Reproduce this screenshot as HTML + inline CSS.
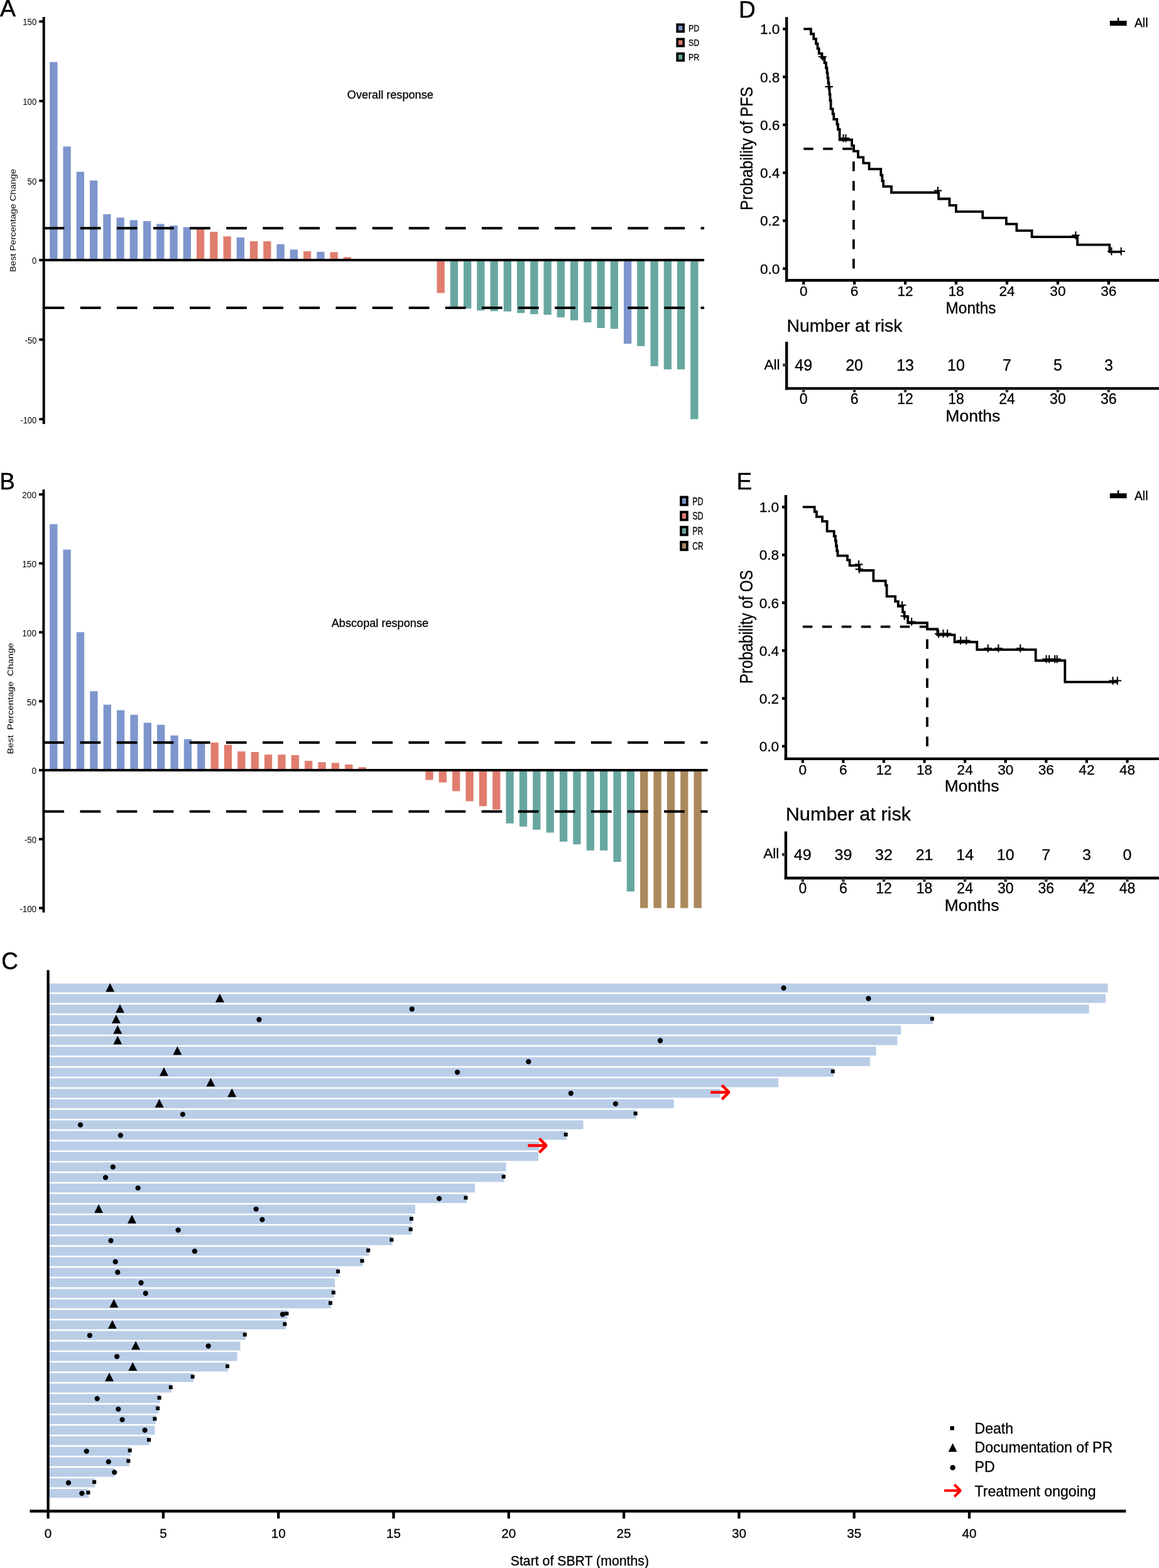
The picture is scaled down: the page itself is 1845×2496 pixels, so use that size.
<!DOCTYPE html>
<html lang="en">
<head>
<meta charset="utf-8">
<title>Figure: response, swimmer plot and survival</title>
<style>
html,body{margin:0;padding:0;background:#fff;}
body{width:1845px;height:2496px;overflow:hidden;}
svg{display:block;}
svg text{font-family:"Liberation Sans",Arial,Helvetica,sans-serif;fill:#000;}
</style>
</head>
<body>
<svg width="1845" height="2496" viewBox="0 0 1845 2496">
<rect x="0" y="0" width="1845" height="2496" fill="#fff"/>
<text x="0" y="25.8" font-size="37.5" stroke="#000" stroke-width="0.5">A</text>
<text x="-0.5" y="778.6" font-size="36.3" stroke="#000" stroke-width="0.5">B</text>
<text x="2.3" y="1543" font-size="38.6" textLength="26.6" lengthAdjust="spacingAndGlyphs" stroke="#000" stroke-width="0.5">C</text>
<text x="1176" y="27.5" font-size="37" stroke="#000" stroke-width="0.5">D</text>
<text x="1172.5" y="779.1" font-size="37" stroke="#000" stroke-width="0.5">E</text>
<rect x="79.2" y="98.77" width="12.3" height="315.23" fill="#7e96cd"/>
<rect x="100.45" y="233.22" width="12.3" height="180.78" fill="#7e96cd"/>
<rect x="121.7" y="273.47" width="12.3" height="140.53" fill="#7e96cd"/>
<rect x="142.95" y="287.4" width="12.3" height="126.6" fill="#7e96cd"/>
<rect x="164.2" y="341.08" width="12.3" height="72.92" fill="#7e96cd"/>
<rect x="185.45" y="346.4" width="12.3" height="67.6" fill="#7e96cd"/>
<rect x="206.7" y="350.45" width="12.3" height="63.55" fill="#7e96cd"/>
<rect x="227.95" y="351.97" width="12.3" height="62.03" fill="#7e96cd"/>
<rect x="249.2" y="356.52" width="12.3" height="57.48" fill="#7e96cd"/>
<rect x="270.45" y="359.06" width="12.3" height="54.94" fill="#7e96cd"/>
<rect x="291.7" y="361.59" width="12.3" height="52.41" fill="#7e96cd"/>
<rect x="312.95" y="364.88" width="12.3" height="49.12" fill="#e07d6f"/>
<rect x="334.2" y="368.93" width="12.3" height="45.07" fill="#e07d6f"/>
<rect x="355.45" y="376.27" width="12.3" height="37.73" fill="#e07d6f"/>
<rect x="376.7" y="378.05" width="12.3" height="35.95" fill="#7e96cd"/>
<rect x="397.95" y="383.87" width="12.3" height="30.13" fill="#e07d6f"/>
<rect x="419.2" y="384.12" width="12.3" height="29.88" fill="#e07d6f"/>
<rect x="440.45" y="388.68" width="12.3" height="25.32" fill="#7e96cd"/>
<rect x="461.7" y="397.29" width="12.3" height="16.71" fill="#7e96cd"/>
<rect x="482.95" y="400.07" width="12.3" height="13.93" fill="#e07d6f"/>
<rect x="504.2" y="400.83" width="12.3" height="13.17" fill="#7e96cd"/>
<rect x="525.45" y="401.34" width="12.3" height="12.66" fill="#e07d6f"/>
<rect x="546.7" y="409.19" width="12.3" height="4.81" fill="#e07d6f"/>
<rect x="695.45" y="414" width="12.3" height="52.41" fill="#e07d6f"/>
<rect x="716.7" y="414" width="12.3" height="74.44" fill="#68a7a1"/>
<rect x="737.95" y="414" width="12.3" height="76.97" fill="#68a7a1"/>
<rect x="759.2" y="414" width="12.3" height="80.26" fill="#68a7a1"/>
<rect x="780.45" y="414" width="12.3" height="81.28" fill="#68a7a1"/>
<rect x="801.7" y="414" width="12.3" height="81.78" fill="#68a7a1"/>
<rect x="822.95" y="414" width="12.3" height="84.32" fill="#68a7a1"/>
<rect x="844.2" y="414" width="12.3" height="86.09" fill="#68a7a1"/>
<rect x="865.45" y="414" width="12.3" height="87.1" fill="#68a7a1"/>
<rect x="886.7" y="414" width="12.3" height="91.15" fill="#68a7a1"/>
<rect x="907.95" y="414" width="12.3" height="95.96" fill="#68a7a1"/>
<rect x="929.2" y="414" width="12.3" height="99.25" fill="#68a7a1"/>
<rect x="950.45" y="414" width="12.3" height="108.12" fill="#68a7a1"/>
<rect x="971.7" y="414" width="12.3" height="109.38" fill="#68a7a1"/>
<rect x="992.95" y="414" width="12.3" height="133.18" fill="#7e96cd"/>
<rect x="1014.2" y="414" width="12.3" height="136.98" fill="#68a7a1"/>
<rect x="1035.45" y="414" width="12.3" height="168.88" fill="#68a7a1"/>
<rect x="1056.7" y="414" width="12.3" height="173.95" fill="#68a7a1"/>
<rect x="1077.95" y="414" width="12.3" height="173.95" fill="#68a7a1"/>
<rect x="1099.2" y="414" width="12.3" height="253.2" fill="#68a7a1"/>
<line x1="69.7" y1="363.36" x2="1121" y2="363.36" stroke="#000" stroke-width="4" stroke-dasharray="32.7 25.4"/>
<line x1="69.7" y1="489.96" x2="1121" y2="489.96" stroke="#000" stroke-width="4" stroke-dasharray="32.7 25.4"/>
<line x1="69.7" y1="414" x2="1121" y2="414" stroke="#000" stroke-width="4"/>
<line x1="69.7" y1="27" x2="69.7" y2="675" stroke="#000" stroke-width="4"/>
<line x1="62.3" y1="34.2" x2="69.7" y2="34.2" stroke="#000" stroke-width="3.9"/>
<text x="58.3" y="39.8" font-size="15.2" text-anchor="end" textLength="22.05" lengthAdjust="spacingAndGlyphs">150</text>
<line x1="62.3" y1="160.8" x2="69.7" y2="160.8" stroke="#000" stroke-width="3.9"/>
<text x="58.3" y="166.65" font-size="15.2" text-anchor="end" textLength="22.05" lengthAdjust="spacingAndGlyphs">100</text>
<line x1="62.3" y1="287.4" x2="69.7" y2="287.4" stroke="#000" stroke-width="3.9"/>
<text x="58.3" y="293.5" font-size="15.2" text-anchor="end" textLength="14.7" lengthAdjust="spacingAndGlyphs">50</text>
<line x1="62.3" y1="414" x2="69.7" y2="414" stroke="#000" stroke-width="3.9"/>
<text x="58.3" y="420.35" font-size="15.2" text-anchor="end" textLength="7.35" lengthAdjust="spacingAndGlyphs">0</text>
<line x1="62.3" y1="540.6" x2="69.7" y2="540.6" stroke="#000" stroke-width="3.9"/>
<text x="58.3" y="547.2" font-size="15.2" text-anchor="end" textLength="18.6" lengthAdjust="spacingAndGlyphs">-50</text>
<line x1="62.3" y1="667.2" x2="69.7" y2="667.2" stroke="#000" stroke-width="3.9"/>
<text x="58.3" y="674.05" font-size="15.2" text-anchor="end" textLength="25.95" lengthAdjust="spacingAndGlyphs">-100</text>
<text x="25.5" y="350.9" font-size="13" text-anchor="middle" transform="rotate(-90 25.5 350.9)" textLength="164.2" lengthAdjust="spacingAndGlyphs" xml:space="preserve">Best Percentage Change</text>
<text x="552.8" y="157" font-size="18.6" textLength="137" lengthAdjust="spacingAndGlyphs" stroke="#000" stroke-width="0.3">Overall response</text>
<rect x="1078.25" y="39.15" width="9.9" height="11.1" fill="#7e96cd" stroke="#000" stroke-width="3.75"/>
<text x="1096" y="49.9" font-size="15" textLength="17.3" lengthAdjust="spacingAndGlyphs" stroke="#000" stroke-width="0.3">PD</text>
<rect x="1078.25" y="62.21" width="9.9" height="11.1" fill="#e07d6f" stroke="#000" stroke-width="3.75"/>
<text x="1096" y="72.96" font-size="15" textLength="17.3" lengthAdjust="spacingAndGlyphs" stroke="#000" stroke-width="0.3">SD</text>
<rect x="1078.25" y="85.27" width="9.9" height="11.1" fill="#68a7a1" stroke="#000" stroke-width="3.75"/>
<text x="1096" y="96.02" font-size="15" textLength="17.3" lengthAdjust="spacingAndGlyphs" stroke="#000" stroke-width="0.3">PR</text>
<rect x="79.15" y="834.41" width="12.3" height="391.59" fill="#7e96cd"/>
<rect x="100.51" y="874.8" width="12.3" height="351.2" fill="#7e96cd"/>
<rect x="121.87" y="1006.28" width="12.3" height="219.72" fill="#7e96cd"/>
<rect x="143.24" y="1100.23" width="12.3" height="125.77" fill="#7e96cd"/>
<rect x="164.6" y="1121.74" width="12.3" height="104.26" fill="#7e96cd"/>
<rect x="185.96" y="1130.52" width="12.3" height="95.48" fill="#7e96cd"/>
<rect x="207.32" y="1137.76" width="12.3" height="88.24" fill="#7e96cd"/>
<rect x="228.68" y="1150.49" width="12.3" height="75.51" fill="#7e96cd"/>
<rect x="250.05" y="1153.78" width="12.3" height="72.22" fill="#7e96cd"/>
<rect x="271.41" y="1170.69" width="12.3" height="55.31" fill="#7e96cd"/>
<rect x="292.77" y="1176.61" width="12.3" height="49.39" fill="#7e96cd"/>
<rect x="314.13" y="1181.66" width="12.3" height="44.34" fill="#7e96cd"/>
<rect x="335.49" y="1182.1" width="12.3" height="43.9" fill="#e07d6f"/>
<rect x="356.86" y="1185.61" width="12.3" height="40.39" fill="#e07d6f"/>
<rect x="378.22" y="1196.15" width="12.3" height="29.85" fill="#e07d6f"/>
<rect x="399.58" y="1197.03" width="12.3" height="28.97" fill="#e07d6f"/>
<rect x="420.94" y="1201.2" width="12.3" height="24.8" fill="#e07d6f"/>
<rect x="442.3" y="1201.2" width="12.3" height="24.8" fill="#e07d6f"/>
<rect x="463.67" y="1202.07" width="12.3" height="23.93" fill="#e07d6f"/>
<rect x="485.03" y="1211.07" width="12.3" height="14.93" fill="#e07d6f"/>
<rect x="506.39" y="1213.27" width="12.3" height="12.73" fill="#e07d6f"/>
<rect x="527.75" y="1214.37" width="12.3" height="11.63" fill="#e07d6f"/>
<rect x="549.11" y="1217" width="12.3" height="9" fill="#e07d6f"/>
<rect x="570.48" y="1221.17" width="12.3" height="4.83" fill="#e07d6f"/>
<rect x="677.29" y="1226" width="12.3" height="15.58" fill="#e07d6f"/>
<rect x="698.65" y="1226" width="12.3" height="19.54" fill="#e07d6f"/>
<rect x="720.01" y="1226" width="12.3" height="33.36" fill="#e07d6f"/>
<rect x="741.37" y="1226" width="12.3" height="49.39" fill="#e07d6f"/>
<rect x="762.73" y="1226" width="12.3" height="57.29" fill="#e07d6f"/>
<rect x="784.1" y="1226" width="12.3" height="62.56" fill="#e07d6f"/>
<rect x="805.46" y="1226" width="12.3" height="84.73" fill="#68a7a1"/>
<rect x="826.82" y="1226" width="12.3" height="89.78" fill="#68a7a1"/>
<rect x="848.18" y="1226" width="12.3" height="94.82" fill="#68a7a1"/>
<rect x="869.54" y="1226" width="12.3" height="99.43" fill="#68a7a1"/>
<rect x="890.91" y="1226" width="12.3" height="113.7" fill="#68a7a1"/>
<rect x="912.27" y="1226" width="12.3" height="118.09" fill="#68a7a1"/>
<rect x="933.63" y="1226" width="12.3" height="127.75" fill="#68a7a1"/>
<rect x="954.99" y="1226" width="12.3" height="127.75" fill="#68a7a1"/>
<rect x="976.35" y="1226" width="12.3" height="145.97" fill="#68a7a1"/>
<rect x="997.72" y="1226" width="12.3" height="193.16" fill="#68a7a1"/>
<rect x="1019.08" y="1226" width="12.3" height="219.5" fill="#ab895d"/>
<rect x="1040.44" y="1226" width="12.3" height="219.5" fill="#ab895d"/>
<rect x="1061.8" y="1226" width="12.3" height="219.5" fill="#ab895d"/>
<rect x="1083.16" y="1226" width="12.3" height="219.5" fill="#ab895d"/>
<rect x="1104.53" y="1226" width="12.3" height="219.5" fill="#ab895d"/>
<line x1="69.4" y1="1182.1" x2="1126.6" y2="1182.1" stroke="#000" stroke-width="4" stroke-dasharray="32.7 25.4"/>
<line x1="69.4" y1="1291.85" x2="1126.6" y2="1291.85" stroke="#000" stroke-width="4" stroke-dasharray="32.7 25.4"/>
<line x1="69.4" y1="1226" x2="1126.6" y2="1226" stroke="#000" stroke-width="4"/>
<line x1="69.4" y1="779.2" x2="69.4" y2="1452.6" stroke="#000" stroke-width="4"/>
<line x1="62" y1="787" x2="69.4" y2="787" stroke="#000" stroke-width="3.9"/>
<text x="58" y="793.3" font-size="15.3" text-anchor="end" textLength="22.8" lengthAdjust="spacingAndGlyphs">200</text>
<line x1="62" y1="896.75" x2="69.4" y2="896.75" stroke="#000" stroke-width="3.9"/>
<text x="58" y="903.05" font-size="15.3" text-anchor="end" textLength="22.8" lengthAdjust="spacingAndGlyphs">150</text>
<line x1="62" y1="1006.5" x2="69.4" y2="1006.5" stroke="#000" stroke-width="3.9"/>
<text x="58" y="1012.8" font-size="15.3" text-anchor="end" textLength="22.8" lengthAdjust="spacingAndGlyphs">100</text>
<line x1="62" y1="1116.25" x2="69.4" y2="1116.25" stroke="#000" stroke-width="3.9"/>
<text x="58" y="1122.55" font-size="15.3" text-anchor="end" textLength="15.2" lengthAdjust="spacingAndGlyphs">50</text>
<line x1="62" y1="1226" x2="69.4" y2="1226" stroke="#000" stroke-width="3.9"/>
<text x="58" y="1232.3" font-size="15.3" text-anchor="end" textLength="7.6" lengthAdjust="spacingAndGlyphs">0</text>
<line x1="62" y1="1335.75" x2="69.4" y2="1335.75" stroke="#000" stroke-width="3.9"/>
<text x="58" y="1342.05" font-size="15.3" text-anchor="end" textLength="19.1" lengthAdjust="spacingAndGlyphs">-50</text>
<line x1="62" y1="1445.5" x2="69.4" y2="1445.5" stroke="#000" stroke-width="3.9"/>
<text x="58" y="1451.8" font-size="15.3" text-anchor="end" textLength="26.7" lengthAdjust="spacingAndGlyphs">-100</text>
<text x="20.8" y="1111.9" font-size="13" text-anchor="middle" transform="rotate(-90 20.8 1111.9)" textLength="177.2" lengthAdjust="spacingAndGlyphs" xml:space="preserve">Best  Percentage  Change</text>
<text x="527.7" y="997.9" font-size="18.6" textLength="154.4" lengthAdjust="spacingAndGlyphs" stroke="#000" stroke-width="0.3">Abscopal response</text>
<rect x="1084.05" y="791.25" width="9.9" height="12.5" fill="#7e96cd" stroke="#000" stroke-width="3.75"/>
<text x="1102.3" y="803.5" font-size="15.6" textLength="17.3" lengthAdjust="spacingAndGlyphs" stroke="#000" stroke-width="0.3">PD</text>
<rect x="1084.05" y="815.1" width="9.9" height="12.5" fill="#e07d6f" stroke="#000" stroke-width="3.75"/>
<text x="1102.3" y="827.35" font-size="15.6" textLength="17.3" lengthAdjust="spacingAndGlyphs" stroke="#000" stroke-width="0.3">SD</text>
<rect x="1084.05" y="838.95" width="9.9" height="12.5" fill="#68a7a1" stroke="#000" stroke-width="3.75"/>
<text x="1102.3" y="851.2" font-size="15.6" textLength="17.3" lengthAdjust="spacingAndGlyphs" stroke="#000" stroke-width="0.3">PR</text>
<rect x="1084.05" y="862.8" width="9.9" height="12.5" fill="#ab895d" stroke="#000" stroke-width="3.75"/>
<text x="1102.3" y="875.05" font-size="15.6" textLength="17.3" lengthAdjust="spacingAndGlyphs" stroke="#000" stroke-width="0.3">CR</text>
<line x1="1279.2" y1="236.85" x2="1358.9" y2="236.85" stroke="#000" stroke-width="3.8" stroke-dasharray="15.5 15.5"/>
<line x1="1358.9" y1="427.6" x2="1358.9" y2="236.85" stroke="#000" stroke-width="3.8" stroke-dasharray="15.5 15.5"/>
<path d="M1279.2 46.1 H1290.9 V54 H1295.3 V61.8 H1299 V69.6 H1301.5 V77.4 H1303.7 V85.1 H1308.1 V92 H1312.5 V100 H1315 V108 H1316.5 V116 H1317.5 V124 H1318.5 V132 H1319.5 V140 H1320.5 V150 H1321.5 V160 H1322.6 V173.3 H1325.6 V181.4 H1327.3 V189.8 H1332.4 V197.9 H1334 V206 H1336.6 V222.5 H1356.1 V231.8 H1359.1 V240.7 H1366 V250.4 H1374.3 V259.7 H1383.6 V269.1 H1402.3 V278.8 H1404.4 V288 H1406.2 V296.9 H1419 V306.5 H1494.2 V316.5 H1511.5 V326.8 H1521.9 V336.8 H1564.3 V346.8 H1601.9 V356.6 H1618.4 V367.1 H1642.6 V377.1 H1715.1 V389.6 H1766.3 V400.9 H1785.1 V400.9" fill="none" stroke="#000" stroke-width="3.8" stroke-linejoin="miter"/>
<line x1="1303.1" y1="90.3" x2="1315.7" y2="90.3" stroke="#000" stroke-width="2.1"/>
<line x1="1309.4" y1="84" x2="1309.4" y2="96.6" stroke="#000" stroke-width="2.1"/>
<line x1="1313.3" y1="138" x2="1325.9" y2="138" stroke="#000" stroke-width="2.1"/>
<line x1="1319.6" y1="131.7" x2="1319.6" y2="144.3" stroke="#000" stroke-width="2.1"/>
<line x1="1336.2" y1="220" x2="1348.8" y2="220" stroke="#000" stroke-width="2.1"/>
<line x1="1342.5" y1="213.7" x2="1342.5" y2="226.3" stroke="#000" stroke-width="2.1"/>
<line x1="1340.1" y1="220" x2="1352.7" y2="220" stroke="#000" stroke-width="2.1"/>
<line x1="1346.4" y1="213.7" x2="1346.4" y2="226.3" stroke="#000" stroke-width="2.1"/>
<line x1="1486.7" y1="303.5" x2="1499.3" y2="303.5" stroke="#000" stroke-width="2.1"/>
<line x1="1493" y1="297.2" x2="1493" y2="309.8" stroke="#000" stroke-width="2.1"/>
<line x1="1706.1" y1="374.6" x2="1718.7" y2="374.6" stroke="#000" stroke-width="2.1"/>
<line x1="1712.4" y1="368.3" x2="1712.4" y2="380.9" stroke="#000" stroke-width="2.1"/>
<line x1="1763.1" y1="400" x2="1775.7" y2="400" stroke="#000" stroke-width="2.1"/>
<line x1="1769.4" y1="393.7" x2="1769.4" y2="406.3" stroke="#000" stroke-width="2.1"/>
<line x1="1778.4" y1="400" x2="1791" y2="400" stroke="#000" stroke-width="2.1"/>
<line x1="1784.7" y1="393.7" x2="1784.7" y2="406.3" stroke="#000" stroke-width="2.1"/>
<line x1="1252.2" y1="27.3" x2="1252.2" y2="448.4" stroke="#000" stroke-width="4.4"/>
<line x1="1250" y1="446.3" x2="1845" y2="446.3" stroke="#000" stroke-width="4.4"/>
<line x1="1246.2" y1="427.6" x2="1252.2" y2="427.6" stroke="#000" stroke-width="4.3"/>
<text x="1241.4" y="435.7" font-size="22.6" text-anchor="end" stroke="#000" stroke-width="0.3">0.0</text>
<line x1="1246.2" y1="351.3" x2="1252.2" y2="351.3" stroke="#000" stroke-width="4.3"/>
<text x="1241.4" y="359.4" font-size="22.6" text-anchor="end" stroke="#000" stroke-width="0.3">0.2</text>
<line x1="1246.2" y1="275" x2="1252.2" y2="275" stroke="#000" stroke-width="4.3"/>
<text x="1241.4" y="283.1" font-size="22.6" text-anchor="end" stroke="#000" stroke-width="0.3">0.4</text>
<line x1="1246.2" y1="198.7" x2="1252.2" y2="198.7" stroke="#000" stroke-width="4.3"/>
<text x="1241.4" y="206.8" font-size="22.6" text-anchor="end" stroke="#000" stroke-width="0.3">0.6</text>
<line x1="1246.2" y1="122.4" x2="1252.2" y2="122.4" stroke="#000" stroke-width="4.3"/>
<text x="1241.4" y="130.5" font-size="22.6" text-anchor="end" stroke="#000" stroke-width="0.3">0.8</text>
<line x1="1246.2" y1="46.1" x2="1252.2" y2="46.1" stroke="#000" stroke-width="4.3"/>
<text x="1241.4" y="54.2" font-size="22.6" text-anchor="end" stroke="#000" stroke-width="0.3">1.0</text>
<line x1="1279.2" y1="446.3" x2="1279.2" y2="452.9" stroke="#000" stroke-width="4.2"/>
<text x="1279.2" y="471.2" font-size="22.6" text-anchor="middle" stroke="#000" stroke-width="0.3">0</text>
<line x1="1360.14" y1="446.3" x2="1360.14" y2="452.9" stroke="#000" stroke-width="4.2"/>
<text x="1360.14" y="471.2" font-size="22.6" text-anchor="middle" stroke="#000" stroke-width="0.3">6</text>
<line x1="1441.08" y1="446.3" x2="1441.08" y2="452.9" stroke="#000" stroke-width="4.2"/>
<text x="1441.08" y="471.2" font-size="22.6" text-anchor="middle" stroke="#000" stroke-width="0.3">12</text>
<line x1="1522.02" y1="446.3" x2="1522.02" y2="452.9" stroke="#000" stroke-width="4.2"/>
<text x="1522.02" y="471.2" font-size="22.6" text-anchor="middle" stroke="#000" stroke-width="0.3">18</text>
<line x1="1602.96" y1="446.3" x2="1602.96" y2="452.9" stroke="#000" stroke-width="4.2"/>
<text x="1602.96" y="471.2" font-size="22.6" text-anchor="middle" stroke="#000" stroke-width="0.3">24</text>
<line x1="1683.9" y1="446.3" x2="1683.9" y2="452.9" stroke="#000" stroke-width="4.2"/>
<text x="1683.9" y="471.2" font-size="22.6" text-anchor="middle" stroke="#000" stroke-width="0.3">30</text>
<line x1="1764.84" y1="446.3" x2="1764.84" y2="452.9" stroke="#000" stroke-width="4.2"/>
<text x="1764.84" y="471.2" font-size="22.6" text-anchor="middle" stroke="#000" stroke-width="0.3">36</text>
<text x="1545.5" y="498.5" font-size="25.5" text-anchor="middle" textLength="80" lengthAdjust="spacingAndGlyphs" stroke="#000" stroke-width="0.3">Months</text>
<text x="1198.3" y="236.4" font-size="27.5" text-anchor="middle" transform="rotate(-90 1198.3 236.4)" textLength="196.5" lengthAdjust="spacingAndGlyphs" stroke="#000" stroke-width="0.3">Probability of PFS</text>
<line x1="1766.8" y1="37" x2="1793.6" y2="37" stroke="#000" stroke-width="7.9"/>
<line x1="1780.1" y1="28.3" x2="1780.1" y2="37" stroke="#000" stroke-width="2.6"/>
<text x="1806" y="43.4" font-size="19.3" stroke="#000" stroke-width="0.3">All</text>
<text x="1252.6" y="528" font-size="28" textLength="183.8" lengthAdjust="spacingAndGlyphs" stroke="#000" stroke-width="0.3">Number at risk</text>
<line x1="1252.2" y1="544" x2="1252.2" y2="620.5" stroke="#000" stroke-width="4.4"/>
<line x1="1250" y1="618.4" x2="1845" y2="618.4" stroke="#000" stroke-width="4.4"/>
<line x1="1246.2" y1="581" x2="1252.2" y2="581" stroke="#333" stroke-width="4.6"/>
<text x="1241.6" y="587.6" font-size="22.6" text-anchor="end" stroke="#000" stroke-width="0.3">All</text>
<line x1="1279.2" y1="618.4" x2="1279.2" y2="624.4" stroke="#333" stroke-width="4.4"/>
<text x="1279.2" y="643" font-size="23" text-anchor="middle" stroke="#000" stroke-width="0.3">0</text>
<text x="1279.2" y="589.8" font-size="25" text-anchor="middle" stroke="#000" stroke-width="0.3">49</text>
<line x1="1360.14" y1="618.4" x2="1360.14" y2="624.4" stroke="#333" stroke-width="4.4"/>
<text x="1360.14" y="643" font-size="23" text-anchor="middle" stroke="#000" stroke-width="0.3">6</text>
<text x="1360.14" y="589.8" font-size="25" text-anchor="middle" stroke="#000" stroke-width="0.3">20</text>
<line x1="1441.08" y1="618.4" x2="1441.08" y2="624.4" stroke="#333" stroke-width="4.4"/>
<text x="1441.08" y="643" font-size="23" text-anchor="middle" stroke="#000" stroke-width="0.3">12</text>
<text x="1441.08" y="589.8" font-size="25" text-anchor="middle" stroke="#000" stroke-width="0.3">13</text>
<line x1="1522.02" y1="618.4" x2="1522.02" y2="624.4" stroke="#333" stroke-width="4.4"/>
<text x="1522.02" y="643" font-size="23" text-anchor="middle" stroke="#000" stroke-width="0.3">18</text>
<text x="1522.02" y="589.8" font-size="25" text-anchor="middle" stroke="#000" stroke-width="0.3">10</text>
<line x1="1602.96" y1="618.4" x2="1602.96" y2="624.4" stroke="#333" stroke-width="4.4"/>
<text x="1602.96" y="643" font-size="23" text-anchor="middle" stroke="#000" stroke-width="0.3">24</text>
<text x="1602.96" y="589.8" font-size="25" text-anchor="middle" stroke="#000" stroke-width="0.3">7</text>
<line x1="1683.9" y1="618.4" x2="1683.9" y2="624.4" stroke="#333" stroke-width="4.4"/>
<text x="1683.9" y="643" font-size="23" text-anchor="middle" stroke="#000" stroke-width="0.3">30</text>
<text x="1683.9" y="589.8" font-size="25" text-anchor="middle" stroke="#000" stroke-width="0.3">5</text>
<line x1="1764.84" y1="618.4" x2="1764.84" y2="624.4" stroke="#333" stroke-width="4.4"/>
<text x="1764.84" y="643" font-size="23" text-anchor="middle" stroke="#000" stroke-width="0.3">36</text>
<text x="1764.84" y="589.8" font-size="25" text-anchor="middle" stroke="#000" stroke-width="0.3">3</text>
<text x="1548.8" y="671" font-size="26.5" text-anchor="middle" textLength="87" lengthAdjust="spacingAndGlyphs" stroke="#000" stroke-width="0.3">Months</text>
<line x1="1277.8" y1="997.55" x2="1476" y2="997.55" stroke="#000" stroke-width="3.8" stroke-dasharray="15.5 15.5"/>
<line x1="1476" y1="1187.9" x2="1476" y2="997.55" stroke="#000" stroke-width="3.8" stroke-dasharray="15.5 15.5"/>
<path d="M1277.8 807.2 H1296.7 V814.5 H1299.9 V822.6 H1309 V829.9 H1316.6 V845.7 H1327.7 V853.5 H1329.9 V861 H1331 V869 H1332.2 V877 H1333.5 V884.7 H1349 V891.7 H1352.6 V900.2 H1368 V908 H1390.4 V924.7 H1409.8 V931.6 H1411.6 V949.4 H1425.2 V957.4 H1429.8 V965.2 H1437 V974.3 H1439.7 V981.5 H1445.2 V991.5 H1476.1 V1001.5 H1492.4 V1010.6 H1519.6 V1022 H1555.3 V1034.1 H1648.7 V1051.5 H1695.3 V1085.7 H1778.8 V1085.7" fill="none" stroke="#000" stroke-width="3.8" stroke-linejoin="miter"/>
<line x1="1360.8" y1="898.4" x2="1373.4" y2="898.4" stroke="#000" stroke-width="2.1"/>
<line x1="1367.1" y1="892.1" x2="1367.1" y2="904.7" stroke="#000" stroke-width="2.1"/>
<line x1="1361.6" y1="906.1" x2="1374.2" y2="906.1" stroke="#000" stroke-width="2.1"/>
<line x1="1367.9" y1="899.8" x2="1367.9" y2="912.4" stroke="#000" stroke-width="2.1"/>
<line x1="1429.8" y1="963.4" x2="1442.4" y2="963.4" stroke="#000" stroke-width="2.1"/>
<line x1="1436.1" y1="957.1" x2="1436.1" y2="969.7" stroke="#000" stroke-width="2.1"/>
<line x1="1433.4" y1="980.6" x2="1446" y2="980.6" stroke="#000" stroke-width="2.1"/>
<line x1="1439.7" y1="974.3" x2="1439.7" y2="986.9" stroke="#000" stroke-width="2.1"/>
<line x1="1444.9" y1="989.7" x2="1457.5" y2="989.7" stroke="#000" stroke-width="2.1"/>
<line x1="1451.2" y1="983.4" x2="1451.2" y2="996" stroke="#000" stroke-width="2.1"/>
<line x1="1487.9" y1="1009" x2="1500.5" y2="1009" stroke="#000" stroke-width="2.1"/>
<line x1="1494.2" y1="1002.7" x2="1494.2" y2="1015.3" stroke="#000" stroke-width="2.1"/>
<line x1="1495.2" y1="1008.5" x2="1507.8" y2="1008.5" stroke="#000" stroke-width="2.1"/>
<line x1="1501.5" y1="1002.2" x2="1501.5" y2="1014.8" stroke="#000" stroke-width="2.1"/>
<line x1="1501.9" y1="1008.5" x2="1514.5" y2="1008.5" stroke="#000" stroke-width="2.1"/>
<line x1="1508.2" y1="1002.2" x2="1508.2" y2="1014.8" stroke="#000" stroke-width="2.1"/>
<line x1="1522.9" y1="1019.7" x2="1535.5" y2="1019.7" stroke="#000" stroke-width="2.1"/>
<line x1="1529.2" y1="1013.4" x2="1529.2" y2="1026" stroke="#000" stroke-width="2.1"/>
<line x1="1532.1" y1="1019.7" x2="1544.7" y2="1019.7" stroke="#000" stroke-width="2.1"/>
<line x1="1538.4" y1="1013.4" x2="1538.4" y2="1026" stroke="#000" stroke-width="2.1"/>
<line x1="1566.4" y1="1032" x2="1579" y2="1032" stroke="#000" stroke-width="2.1"/>
<line x1="1572.7" y1="1025.7" x2="1572.7" y2="1038.3" stroke="#000" stroke-width="2.1"/>
<line x1="1583.1" y1="1032" x2="1595.7" y2="1032" stroke="#000" stroke-width="2.1"/>
<line x1="1589.4" y1="1025.7" x2="1589.4" y2="1038.3" stroke="#000" stroke-width="2.1"/>
<line x1="1618" y1="1032" x2="1630.6" y2="1032" stroke="#000" stroke-width="2.1"/>
<line x1="1624.3" y1="1025.7" x2="1624.3" y2="1038.3" stroke="#000" stroke-width="2.1"/>
<line x1="1659.3" y1="1049.2" x2="1671.9" y2="1049.2" stroke="#000" stroke-width="2.1"/>
<line x1="1665.6" y1="1042.9" x2="1665.6" y2="1055.5" stroke="#000" stroke-width="2.1"/>
<line x1="1663.9" y1="1049.2" x2="1676.5" y2="1049.2" stroke="#000" stroke-width="2.1"/>
<line x1="1670.2" y1="1042.9" x2="1670.2" y2="1055.5" stroke="#000" stroke-width="2.1"/>
<line x1="1672.9" y1="1049.2" x2="1685.5" y2="1049.2" stroke="#000" stroke-width="2.1"/>
<line x1="1679.2" y1="1042.9" x2="1679.2" y2="1055.5" stroke="#000" stroke-width="2.1"/>
<line x1="1676.4" y1="1049.2" x2="1689" y2="1049.2" stroke="#000" stroke-width="2.1"/>
<line x1="1682.7" y1="1042.9" x2="1682.7" y2="1055.5" stroke="#000" stroke-width="2.1"/>
<line x1="1765.2" y1="1083.6" x2="1777.8" y2="1083.6" stroke="#000" stroke-width="2.1"/>
<line x1="1771.5" y1="1077.3" x2="1771.5" y2="1089.9" stroke="#000" stroke-width="2.1"/>
<line x1="1772.5" y1="1083.6" x2="1785.1" y2="1083.6" stroke="#000" stroke-width="2.1"/>
<line x1="1778.8" y1="1077.3" x2="1778.8" y2="1089.9" stroke="#000" stroke-width="2.1"/>
<line x1="1250.9" y1="788.1" x2="1250.9" y2="1210" stroke="#000" stroke-width="4.4"/>
<line x1="1248.7" y1="1207.9" x2="1845" y2="1207.9" stroke="#000" stroke-width="4.4"/>
<line x1="1244.9" y1="1187.9" x2="1250.9" y2="1187.9" stroke="#000" stroke-width="4.3"/>
<text x="1240.1" y="1196" font-size="22.6" text-anchor="end" stroke="#000" stroke-width="0.3">0.0</text>
<line x1="1244.9" y1="1111.76" x2="1250.9" y2="1111.76" stroke="#000" stroke-width="4.3"/>
<text x="1240.1" y="1119.86" font-size="22.6" text-anchor="end" stroke="#000" stroke-width="0.3">0.2</text>
<line x1="1244.9" y1="1035.62" x2="1250.9" y2="1035.62" stroke="#000" stroke-width="4.3"/>
<text x="1240.1" y="1043.72" font-size="22.6" text-anchor="end" stroke="#000" stroke-width="0.3">0.4</text>
<line x1="1244.9" y1="959.48" x2="1250.9" y2="959.48" stroke="#000" stroke-width="4.3"/>
<text x="1240.1" y="967.58" font-size="22.6" text-anchor="end" stroke="#000" stroke-width="0.3">0.6</text>
<line x1="1244.9" y1="883.34" x2="1250.9" y2="883.34" stroke="#000" stroke-width="4.3"/>
<text x="1240.1" y="891.44" font-size="22.6" text-anchor="end" stroke="#000" stroke-width="0.3">0.8</text>
<line x1="1244.9" y1="807.2" x2="1250.9" y2="807.2" stroke="#000" stroke-width="4.3"/>
<text x="1240.1" y="815.3" font-size="22.6" text-anchor="end" stroke="#000" stroke-width="0.3">1.0</text>
<line x1="1277.8" y1="1207.9" x2="1277.8" y2="1214.5" stroke="#000" stroke-width="4.2"/>
<text x="1277.8" y="1232.6" font-size="22.6" text-anchor="middle" stroke="#000" stroke-width="0.3">0</text>
<line x1="1342.39" y1="1207.9" x2="1342.39" y2="1214.5" stroke="#000" stroke-width="4.2"/>
<text x="1342.39" y="1232.6" font-size="22.6" text-anchor="middle" stroke="#000" stroke-width="0.3">6</text>
<line x1="1406.98" y1="1207.9" x2="1406.98" y2="1214.5" stroke="#000" stroke-width="4.2"/>
<text x="1406.98" y="1232.6" font-size="22.6" text-anchor="middle" stroke="#000" stroke-width="0.3">12</text>
<line x1="1471.57" y1="1207.9" x2="1471.57" y2="1214.5" stroke="#000" stroke-width="4.2"/>
<text x="1471.57" y="1232.6" font-size="22.6" text-anchor="middle" stroke="#000" stroke-width="0.3">18</text>
<line x1="1536.16" y1="1207.9" x2="1536.16" y2="1214.5" stroke="#000" stroke-width="4.2"/>
<text x="1536.16" y="1232.6" font-size="22.6" text-anchor="middle" stroke="#000" stroke-width="0.3">24</text>
<line x1="1600.75" y1="1207.9" x2="1600.75" y2="1214.5" stroke="#000" stroke-width="4.2"/>
<text x="1600.75" y="1232.6" font-size="22.6" text-anchor="middle" stroke="#000" stroke-width="0.3">30</text>
<line x1="1665.34" y1="1207.9" x2="1665.34" y2="1214.5" stroke="#000" stroke-width="4.2"/>
<text x="1665.34" y="1232.6" font-size="22.6" text-anchor="middle" stroke="#000" stroke-width="0.3">36</text>
<line x1="1729.93" y1="1207.9" x2="1729.93" y2="1214.5" stroke="#000" stroke-width="4.2"/>
<text x="1729.93" y="1232.6" font-size="22.6" text-anchor="middle" stroke="#000" stroke-width="0.3">42</text>
<line x1="1794.52" y1="1207.9" x2="1794.52" y2="1214.5" stroke="#000" stroke-width="4.2"/>
<text x="1794.52" y="1232.6" font-size="22.6" text-anchor="middle" stroke="#000" stroke-width="0.3">48</text>
<text x="1547.1" y="1260" font-size="25.5" text-anchor="middle" textLength="86.7" lengthAdjust="spacingAndGlyphs" stroke="#000" stroke-width="0.3">Months</text>
<text x="1197.9" y="997.8" font-size="29.3" text-anchor="middle" transform="rotate(-90 1197.9 997.8)" textLength="181" lengthAdjust="spacingAndGlyphs" stroke="#000" stroke-width="0.3">Probability of OS</text>
<line x1="1766.8" y1="789.2" x2="1793.6" y2="789.2" stroke="#000" stroke-width="7.9"/>
<line x1="1780.1" y1="780.5" x2="1780.1" y2="789.2" stroke="#000" stroke-width="2.6"/>
<text x="1806" y="795.6" font-size="19.3" stroke="#000" stroke-width="0.3">All</text>
<text x="1250.7" y="1306.3" font-size="30.3" textLength="199.4" lengthAdjust="spacingAndGlyphs" stroke="#000" stroke-width="0.3">Number at risk</text>
<line x1="1250.9" y1="1323.5" x2="1250.9" y2="1399.8" stroke="#000" stroke-width="4.4"/>
<line x1="1248.7" y1="1397.7" x2="1845" y2="1397.7" stroke="#000" stroke-width="4.4"/>
<line x1="1244.9" y1="1360.3" x2="1250.9" y2="1360.3" stroke="#333" stroke-width="4.6"/>
<text x="1240.3" y="1366.1" font-size="22.6" text-anchor="end" stroke="#000" stroke-width="0.3">All</text>
<line x1="1277.8" y1="1397.7" x2="1277.8" y2="1403.7" stroke="#333" stroke-width="4.4"/>
<text x="1277.8" y="1422.2" font-size="23" text-anchor="middle" stroke="#000" stroke-width="0.3">0</text>
<text x="1277.8" y="1368.5" font-size="23.5" text-anchor="middle" textLength="27.83" lengthAdjust="spacingAndGlyphs" stroke="#000" stroke-width="0.3">49</text>
<line x1="1342.39" y1="1397.7" x2="1342.39" y2="1403.7" stroke="#333" stroke-width="4.4"/>
<text x="1342.39" y="1422.2" font-size="23" text-anchor="middle" stroke="#000" stroke-width="0.3">6</text>
<text x="1342.39" y="1368.5" font-size="23.5" text-anchor="middle" textLength="27.83" lengthAdjust="spacingAndGlyphs" stroke="#000" stroke-width="0.3">39</text>
<line x1="1406.98" y1="1397.7" x2="1406.98" y2="1403.7" stroke="#333" stroke-width="4.4"/>
<text x="1406.98" y="1422.2" font-size="23" text-anchor="middle" stroke="#000" stroke-width="0.3">12</text>
<text x="1406.98" y="1368.5" font-size="23.5" text-anchor="middle" textLength="27.83" lengthAdjust="spacingAndGlyphs" stroke="#000" stroke-width="0.3">32</text>
<line x1="1471.57" y1="1397.7" x2="1471.57" y2="1403.7" stroke="#333" stroke-width="4.4"/>
<text x="1471.57" y="1422.2" font-size="23" text-anchor="middle" stroke="#000" stroke-width="0.3">18</text>
<text x="1471.57" y="1368.5" font-size="23.5" text-anchor="middle" textLength="27.83" lengthAdjust="spacingAndGlyphs" stroke="#000" stroke-width="0.3">21</text>
<line x1="1536.16" y1="1397.7" x2="1536.16" y2="1403.7" stroke="#333" stroke-width="4.4"/>
<text x="1536.16" y="1422.2" font-size="23" text-anchor="middle" stroke="#000" stroke-width="0.3">24</text>
<text x="1536.16" y="1368.5" font-size="23.5" text-anchor="middle" textLength="27.83" lengthAdjust="spacingAndGlyphs" stroke="#000" stroke-width="0.3">14</text>
<line x1="1600.75" y1="1397.7" x2="1600.75" y2="1403.7" stroke="#333" stroke-width="4.4"/>
<text x="1600.75" y="1422.2" font-size="23" text-anchor="middle" stroke="#000" stroke-width="0.3">30</text>
<text x="1600.75" y="1368.5" font-size="23.5" text-anchor="middle" textLength="27.83" lengthAdjust="spacingAndGlyphs" stroke="#000" stroke-width="0.3">10</text>
<line x1="1665.34" y1="1397.7" x2="1665.34" y2="1403.7" stroke="#333" stroke-width="4.4"/>
<text x="1665.34" y="1422.2" font-size="23" text-anchor="middle" stroke="#000" stroke-width="0.3">36</text>
<text x="1665.34" y="1368.5" font-size="23.5" text-anchor="middle" textLength="13.92" lengthAdjust="spacingAndGlyphs" stroke="#000" stroke-width="0.3">7</text>
<line x1="1729.93" y1="1397.7" x2="1729.93" y2="1403.7" stroke="#333" stroke-width="4.4"/>
<text x="1729.93" y="1422.2" font-size="23" text-anchor="middle" stroke="#000" stroke-width="0.3">42</text>
<text x="1729.93" y="1368.5" font-size="23.5" text-anchor="middle" textLength="13.92" lengthAdjust="spacingAndGlyphs" stroke="#000" stroke-width="0.3">3</text>
<line x1="1794.52" y1="1397.7" x2="1794.52" y2="1403.7" stroke="#333" stroke-width="4.4"/>
<text x="1794.52" y="1422.2" font-size="23" text-anchor="middle" stroke="#000" stroke-width="0.3">48</text>
<text x="1794.52" y="1368.5" font-size="23.5" text-anchor="middle" textLength="13.92" lengthAdjust="spacingAndGlyphs" stroke="#000" stroke-width="0.3">0</text>
<text x="1547.1" y="1450" font-size="26.5" text-anchor="middle" textLength="86.7" lengthAdjust="spacingAndGlyphs" stroke="#000" stroke-width="0.3">Months</text>
<rect x="78.2" y="1565.6" width="1685.4" height="14.2" fill="#b9cde7"/>
<rect x="78.2" y="1582.36" width="1681.8" height="14.2" fill="#b9cde7"/>
<rect x="78.2" y="1599.12" width="1655.4" height="14.2" fill="#b9cde7"/>
<rect x="78.2" y="1615.88" width="1406.9" height="14.2" fill="#b9cde7"/>
<rect x="78.2" y="1632.64" width="1356.1" height="14.2" fill="#b9cde7"/>
<rect x="78.2" y="1649.4" width="1350.3" height="14.2" fill="#b9cde7"/>
<rect x="78.2" y="1666.16" width="1316.5" height="14.2" fill="#b9cde7"/>
<rect x="78.2" y="1682.92" width="1306.9" height="14.2" fill="#b9cde7"/>
<rect x="78.2" y="1699.68" width="1248.9" height="14.2" fill="#b9cde7"/>
<rect x="78.2" y="1716.44" width="1160.8" height="14.2" fill="#b9cde7"/>
<rect x="78.2" y="1733.2" width="1068.5" height="14.2" fill="#b9cde7"/>
<rect x="78.2" y="1749.96" width="994.6" height="14.2" fill="#b9cde7"/>
<rect x="78.2" y="1766.72" width="934.7" height="14.2" fill="#b9cde7"/>
<rect x="78.2" y="1783.48" width="850.3" height="14.2" fill="#b9cde7"/>
<rect x="78.2" y="1800.24" width="823.7" height="14.2" fill="#b9cde7"/>
<rect x="78.2" y="1817" width="779.8" height="14.2" fill="#b9cde7"/>
<rect x="78.2" y="1833.76" width="778.9" height="14.2" fill="#b9cde7"/>
<rect x="78.2" y="1850.52" width="727.4" height="14.2" fill="#b9cde7"/>
<rect x="78.2" y="1867.28" width="724.7" height="14.2" fill="#b9cde7"/>
<rect x="78.2" y="1884.04" width="677.8" height="14.2" fill="#b9cde7"/>
<rect x="78.2" y="1900.8" width="664.8" height="14.2" fill="#b9cde7"/>
<rect x="78.2" y="1917.56" width="582.8" height="14.2" fill="#b9cde7"/>
<rect x="78.2" y="1934.32" width="577.9" height="14.2" fill="#b9cde7"/>
<rect x="78.2" y="1951.08" width="576.7" height="14.2" fill="#b9cde7"/>
<rect x="78.2" y="1967.84" width="546.4" height="14.2" fill="#b9cde7"/>
<rect x="78.2" y="1984.6" width="509.2" height="14.2" fill="#b9cde7"/>
<rect x="78.2" y="2001.36" width="499.5" height="14.2" fill="#b9cde7"/>
<rect x="78.2" y="2018.12" width="461.1" height="14.2" fill="#b9cde7"/>
<rect x="78.2" y="2034.88" width="455" height="14.2" fill="#b9cde7"/>
<rect x="78.2" y="2051.64" width="453.8" height="14.2" fill="#b9cde7"/>
<rect x="78.2" y="2068.4" width="449" height="14.2" fill="#b9cde7"/>
<rect x="78.2" y="2085.16" width="379.1" height="14.2" fill="#b9cde7"/>
<rect x="78.2" y="2101.92" width="376.7" height="14.2" fill="#b9cde7"/>
<rect x="78.2" y="2118.68" width="312.8" height="14.2" fill="#b9cde7"/>
<rect x="78.2" y="2135.44" width="304.4" height="14.2" fill="#b9cde7"/>
<rect x="78.2" y="2152.2" width="299.5" height="14.2" fill="#b9cde7"/>
<rect x="78.2" y="2168.96" width="285" height="14.2" fill="#b9cde7"/>
<rect x="78.2" y="2185.72" width="229.9" height="14.2" fill="#b9cde7"/>
<rect x="78.2" y="2202.48" width="194.8" height="14.2" fill="#b9cde7"/>
<rect x="78.2" y="2219.24" width="176.6" height="14.2" fill="#b9cde7"/>
<rect x="78.2" y="2236" width="174.5" height="14.2" fill="#b9cde7"/>
<rect x="78.2" y="2252.76" width="169.7" height="14.2" fill="#b9cde7"/>
<rect x="78.2" y="2269.52" width="168.2" height="14.2" fill="#b9cde7"/>
<rect x="78.2" y="2286.28" width="159.7" height="14.2" fill="#b9cde7"/>
<rect x="78.2" y="2303.04" width="130" height="14.2" fill="#b9cde7"/>
<rect x="78.2" y="2319.8" width="127.6" height="14.2" fill="#b9cde7"/>
<rect x="78.2" y="2336.56" width="104.3" height="14.2" fill="#b9cde7"/>
<rect x="78.2" y="2353.32" width="73.1" height="14.2" fill="#b9cde7"/>
<rect x="78.2" y="2370.08" width="63.1" height="14.2" fill="#b9cde7"/>
<path d="M175.2 1564.95 L182.2 1578.75 L168.2 1578.75 Z" fill="#000"/>
<circle cx="1247.5" cy="1572.7" r="4.15" fill="#000"/>
<path d="M349.9 1581.71 L356.9 1595.51 L342.9 1595.51 Z" fill="#000"/>
<circle cx="1382.5" cy="1589.46" r="4.15" fill="#000"/>
<path d="M191 1598.47 L198 1612.27 L184 1612.27 Z" fill="#000"/>
<circle cx="655.8" cy="1606.22" r="4.15" fill="#000"/>
<path d="M184.9 1615.23 L191.9 1629.03 L177.9 1629.03 Z" fill="#000"/>
<circle cx="412.5" cy="1622.98" r="4.15" fill="#000"/>
<rect x="1480.9" y="1618.68" width="6" height="6" fill="#000"/>
<path d="M187.3 1631.99 L194.3 1645.79 L180.3 1645.79 Z" fill="#000"/>
<path d="M187.3 1648.75 L194.3 1662.55 L180.3 1662.55 Z" fill="#000"/>
<circle cx="1051" cy="1656.5" r="4.15" fill="#000"/>
<path d="M282.4 1665.51 L289.4 1679.31 L275.4 1679.31 Z" fill="#000"/>
<circle cx="841.3" cy="1690.02" r="4.15" fill="#000"/>
<path d="M260.9 1699.03 L267.9 1712.83 L253.9 1712.83 Z" fill="#000"/>
<circle cx="728.1" cy="1706.78" r="4.15" fill="#000"/>
<rect x="1322.8" y="1702.48" width="6" height="6" fill="#000"/>
<path d="M335.4 1715.79 L342.4 1729.59 L328.4 1729.59 Z" fill="#000"/>
<path d="M369.2 1732.55 L376.2 1746.35 L362.2 1746.35 Z" fill="#000"/>
<circle cx="908.8" cy="1740.3" r="4.15" fill="#000"/>
<path d="M253.6 1749.31 L260.6 1763.11 L246.6 1763.11 Z" fill="#000"/>
<circle cx="979.9" cy="1757.06" r="4.15" fill="#000"/>
<circle cx="290.9" cy="1773.82" r="4.15" fill="#000"/>
<rect x="1008.7" y="1769.52" width="6" height="6" fill="#000"/>
<circle cx="128" cy="1790.58" r="4.15" fill="#000"/>
<circle cx="191.9" cy="1807.34" r="4.15" fill="#000"/>
<rect x="897.7" y="1803.04" width="6" height="6" fill="#000"/>
<circle cx="179.8" cy="1857.62" r="4.15" fill="#000"/>
<circle cx="168" cy="1874.38" r="4.15" fill="#000"/>
<rect x="798.7" y="1870.08" width="6" height="6" fill="#000"/>
<circle cx="219.7" cy="1891.14" r="4.15" fill="#000"/>
<circle cx="699.1" cy="1907.9" r="4.15" fill="#000"/>
<rect x="738.5" y="1903.6" width="6" height="6" fill="#000"/>
<path d="M157.1 1916.91 L164.1 1930.71 L150.1 1930.71 Z" fill="#000"/>
<circle cx="407.7" cy="1924.66" r="4.15" fill="#000"/>
<path d="M210 1933.67 L217 1947.47 L203 1947.47 Z" fill="#000"/>
<circle cx="417.4" cy="1941.42" r="4.15" fill="#000"/>
<rect x="651.9" y="1937.12" width="6" height="6" fill="#000"/>
<circle cx="283.6" cy="1958.18" r="4.15" fill="#000"/>
<rect x="650.7" y="1953.88" width="6" height="6" fill="#000"/>
<circle cx="176.5" cy="1974.94" r="4.15" fill="#000"/>
<rect x="620.4" y="1970.64" width="6" height="6" fill="#000"/>
<circle cx="309.9" cy="1991.7" r="4.15" fill="#000"/>
<rect x="583.2" y="1987.4" width="6" height="6" fill="#000"/>
<circle cx="183.7" cy="2008.46" r="4.15" fill="#000"/>
<rect x="573.5" y="2004.16" width="6" height="6" fill="#000"/>
<circle cx="187.3" cy="2025.22" r="4.15" fill="#000"/>
<rect x="535.1" y="2020.92" width="6" height="6" fill="#000"/>
<circle cx="224.6" cy="2041.98" r="4.15" fill="#000"/>
<circle cx="231.8" cy="2058.74" r="4.15" fill="#000"/>
<rect x="527.8" y="2054.44" width="6" height="6" fill="#000"/>
<path d="M181.3 2067.75 L188.3 2081.55 L174.3 2081.55 Z" fill="#000"/>
<rect x="523" y="2071.2" width="6" height="6" fill="#000"/>
<circle cx="450" cy="2092.26" r="4.15" fill="#000"/>
<rect x="453.4" y="2087.96" width="6" height="6" fill="#000"/>
<path d="M178.9 2101.27 L185.9 2115.07 L171.9 2115.07 Z" fill="#000"/>
<rect x="450.4" y="2104.72" width="6" height="6" fill="#000"/>
<circle cx="142.9" cy="2125.78" r="4.15" fill="#000"/>
<rect x="386.8" y="2121.48" width="6" height="6" fill="#000"/>
<path d="M216.1 2134.79 L223.1 2148.59 L209.1 2148.59 Z" fill="#000"/>
<circle cx="331.7" cy="2142.54" r="4.15" fill="#000"/>
<circle cx="186.1" cy="2159.3" r="4.15" fill="#000"/>
<path d="M211.3 2168.31 L218.3 2182.11 L204.3 2182.11 Z" fill="#000"/>
<rect x="359" y="2171.76" width="6" height="6" fill="#000"/>
<path d="M174 2185.07 L181 2198.87 L167 2198.87 Z" fill="#000"/>
<rect x="303.6" y="2188.52" width="6" height="6" fill="#000"/>
<rect x="268.8" y="2205.28" width="6" height="6" fill="#000"/>
<circle cx="154.7" cy="2226.34" r="4.15" fill="#000"/>
<rect x="250.6" y="2222.04" width="6" height="6" fill="#000"/>
<circle cx="188.3" cy="2243.1" r="4.15" fill="#000"/>
<rect x="248.2" y="2238.8" width="6" height="6" fill="#000"/>
<circle cx="194.6" cy="2259.86" r="4.15" fill="#000"/>
<rect x="243.4" y="2255.56" width="6" height="6" fill="#000"/>
<circle cx="230.6" cy="2276.62" r="4.15" fill="#000"/>
<rect x="234" y="2289.08" width="6" height="6" fill="#000"/>
<circle cx="137.7" cy="2310.14" r="4.15" fill="#000"/>
<rect x="203.7" y="2305.84" width="6" height="6" fill="#000"/>
<circle cx="172.8" cy="2326.9" r="4.15" fill="#000"/>
<rect x="201.3" y="2322.6" width="6" height="6" fill="#000"/>
<circle cx="182.2" cy="2343.66" r="4.15" fill="#000"/>
<circle cx="109" cy="2360.42" r="4.15" fill="#000"/>
<rect x="147.1" y="2356.12" width="6" height="6" fill="#000"/>
<circle cx="130.4" cy="2377.18" r="4.15" fill="#000"/>
<rect x="137.4" y="2372.88" width="6" height="6" fill="#000"/>
<path d="M1131 1738.7 H1162 M1149.19 1727.5 L1160.39 1738.7 M1149.19 1749.9 L1160.39 1738.7" fill="none" stroke="#fe0000" stroke-width="4.6"/>
<path d="M840.4 1823.5 H871.2 M858.39 1812.3 L869.59 1823.5 M858.39 1834.7 L869.59 1823.5" fill="none" stroke="#fe0000" stroke-width="4.6"/>
<line x1="76.6" y1="1544.2" x2="76.6" y2="2417.3" stroke="#000" stroke-width="4.3"/>
<line x1="47.5" y1="2405.5" x2="1792.3" y2="2405.5" stroke="#000" stroke-width="4.3"/>
<text x="76.6" y="2448.2" font-size="20.7" text-anchor="middle" stroke="#000" stroke-width="0.3">0</text>
<line x1="259.9" y1="2405.5" x2="259.9" y2="2417.3" stroke="#000" stroke-width="4.3"/>
<text x="259.9" y="2448.2" font-size="20.7" text-anchor="middle" stroke="#000" stroke-width="0.3">5</text>
<line x1="443.2" y1="2405.5" x2="443.2" y2="2417.3" stroke="#000" stroke-width="4.3"/>
<text x="443.2" y="2448.2" font-size="20.7" text-anchor="middle" stroke="#000" stroke-width="0.3">10</text>
<line x1="626.5" y1="2405.5" x2="626.5" y2="2417.3" stroke="#000" stroke-width="4.3"/>
<text x="626.5" y="2448.2" font-size="20.7" text-anchor="middle" stroke="#000" stroke-width="0.3">15</text>
<line x1="809.8" y1="2405.5" x2="809.8" y2="2417.3" stroke="#000" stroke-width="4.3"/>
<text x="809.8" y="2448.2" font-size="20.7" text-anchor="middle" stroke="#000" stroke-width="0.3">20</text>
<line x1="993.1" y1="2405.5" x2="993.1" y2="2417.3" stroke="#000" stroke-width="4.3"/>
<text x="993.1" y="2448.2" font-size="20.7" text-anchor="middle" stroke="#000" stroke-width="0.3">25</text>
<line x1="1176.4" y1="2405.5" x2="1176.4" y2="2417.3" stroke="#000" stroke-width="4.3"/>
<text x="1176.4" y="2448.2" font-size="20.7" text-anchor="middle" stroke="#000" stroke-width="0.3">30</text>
<line x1="1359.7" y1="2405.5" x2="1359.7" y2="2417.3" stroke="#000" stroke-width="4.3"/>
<text x="1359.7" y="2448.2" font-size="20.7" text-anchor="middle" stroke="#000" stroke-width="0.3">35</text>
<line x1="1543" y1="2405.5" x2="1543" y2="2417.3" stroke="#000" stroke-width="4.3"/>
<text x="1543" y="2448.2" font-size="20.7" text-anchor="middle" stroke="#000" stroke-width="0.3">40</text>
<text x="922.9" y="2491.6" font-size="21.2" text-anchor="middle" textLength="220.3" lengthAdjust="spacingAndGlyphs" stroke="#000" stroke-width="0.3">Start of SBRT (months)</text>
<rect x="1512.5" y="2270.2" width="6.4" height="6.4" fill="#000"/>
<path d="M1516.6 2297.3 L1523.5 2311.1 L1509.7 2311.1 Z" fill="#000"/>
<circle cx="1516.6" cy="2336.2" r="4.2" fill="#000"/>
<path d="M1503.1 2372.8 H1530.3 M1519.27 2363.2 L1528.87 2372.8 M1519.27 2382.4 L1528.87 2372.8" fill="none" stroke="#fe0000" stroke-width="4.1"/>
<text x="1551.5" y="2281.9" font-size="23.8" textLength="61.64" lengthAdjust="spacingAndGlyphs" stroke="#000" stroke-width="0.3">Death</text>
<text x="1551.5" y="2312.4" font-size="23.8" textLength="219.56" lengthAdjust="spacingAndGlyphs" stroke="#000" stroke-width="0.3">Documentation of PR</text>
<text x="1551.5" y="2342.9" font-size="23.8" textLength="32.09" lengthAdjust="spacingAndGlyphs" stroke="#000" stroke-width="0.3">PD</text>
<text x="1551.5" y="2381.9" font-size="23.8" textLength="193.05" lengthAdjust="spacingAndGlyphs" stroke="#000" stroke-width="0.3">Treatment ongoing</text>
</svg>
</body>
</html>
